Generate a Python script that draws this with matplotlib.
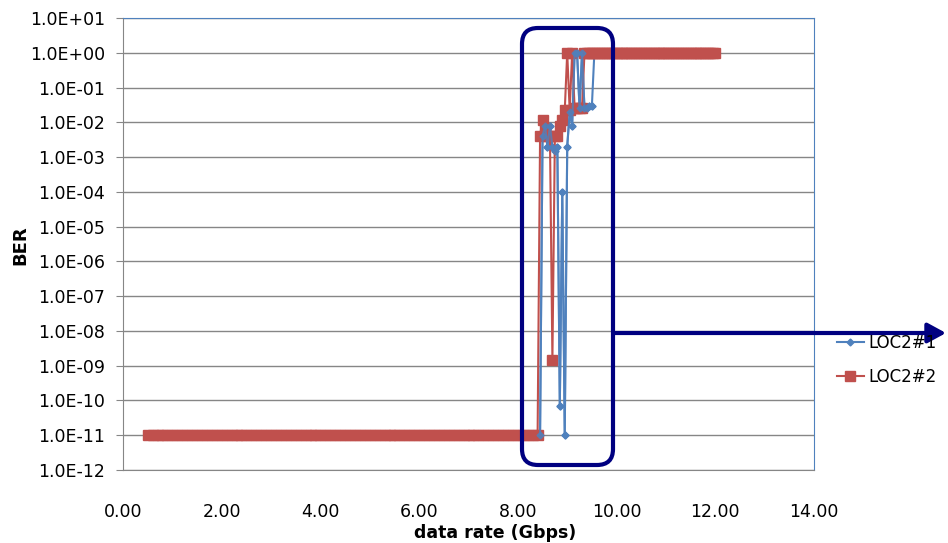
import numpy as np
import matplotlib
matplotlib.use('Agg')
import matplotlib.pyplot as plt
from matplotlib.patches import FancyBboxPatch, FancyArrowPatch
from matplotlib.transforms import IdentityTransform

plt.rcParams['font.family'] = 'DejaVu Sans'

rate_flat_low = np.round(np.arange(0.5, 8.45, 0.1), 2)
ber_flat_low = np.full(rate_flat_low.size, 1e-11)

loc1_rate = [8.45, 8.5, 8.55, 8.6, 8.65, 8.7, 8.75, 8.8, 8.85, 8.9, 8.95, 9.0,
             9.05, 9.1, 9.15, 9.2, 9.25, 9.3, 9.35, 9.4, 9.45, 9.5]
loc1_ber = [1e-11, 4e-3, 8e-3, 2e-3, 8e-3, 2e-3, 1.5e-3, 2e-3, 7e-11, 1e-4, 1e-11, 2e-3,
            2e-2, 8e-3, 1.0, 1.0, 2.5e-2, 1.0, 2.5e-2, 2.5e-2, 3e-2, 3e-2]

loc2_rate = [8.45, 8.5, 8.55, 8.6, 8.65, 8.7, 8.75, 8.8, 8.85, 8.9, 8.95, 9.0,
             9.05, 9.1, 9.15, 9.2, 9.25, 9.3]
loc2_ber = [4e-3, 1.2e-2, 7e-3, 4e-3, 4e-3, 1.5e-9, 4e-3, 4e-3, 8e-3, 1.2e-2, 2.2e-2, 1.0,
            2.2e-2, 1.0, 2.6e-2, 2.6e-2, 2.6e-2, 2.6e-2]

rate_flat_loc1_high = np.round(np.arange(9.55, 12.01, 0.05), 2)
rate_flat_loc2_high = np.round(np.arange(9.35, 12.01, 0.05), 2)

y_ticks = [1e-12, 1e-11, 1e-10, 1e-9, 1e-8, 1e-7, 1e-6, 1e-5, 1e-4, 1e-3, 1e-2, 1e-1, 1e0, 1e1]
y_labels = ['1.0E-12', '1.0E-11', '1.0E-10', '1.0E-09', '1.0E-08', '1.0E-07', '1.0E-06',
            '1.0E-05', '1.0E-04', '1.0E-03', '1.0E-02', '1.0E-01', '1.0E+00', '1.0E+01']
x_ticks = [0, 2, 4, 6, 8, 10, 12, 14]
x_labels = ['0.00', '2.00', '4.00', '6.00', '8.00', '10.00', '12.00', '14.00']

x1 = np.concatenate([rate_flat_low, loc1_rate, rate_flat_loc1_high])
y1 = np.concatenate([ber_flat_low, loc1_ber, np.ones(rate_flat_loc1_high.size)])
x2 = np.concatenate([rate_flat_low, loc2_rate, rate_flat_loc2_high])
y2 = np.concatenate([ber_flat_low, loc2_ber, np.ones(rate_flat_loc2_high.size)])

W, H = 948, 543
fig = plt.figure(figsize=(W / 100, H / 100), dpi=100)
ax = fig.add_axes([123 / W, 1 - 470 / H, (814 - 123) / W, (470 - 18) / H])

l1, = ax.plot(x1, y1, '-', color='#4F81BD', lw=1.5, marker='D', ms=3.5,
              mec='#4F81BD', label='LOC2#1')
l2, = ax.plot(x2, y2, '-', color='#C0504D', lw=1.5, marker='s', ms=6.5,
              mec='#C0504D', label='LOC2#2')
# blue drawn again on top in the transition zone
ax.plot(loc1_rate, loc1_ber, '-', color='#4F81BD', lw=1.5, marker='D', ms=3.5, alpha=0.8)

ax.set_yscale('log')
ax.set_ylim(1e-12, 1e1)
ax.set_xlim(0, 14)
ax.set_yticks(y_ticks)
ax.set_yticklabels(y_labels, fontsize=12.5)
ax.minorticks_off()
ax.set_xticks(x_ticks)
ax.set_xticklabels(x_labels, fontsize=12.5)
ax.tick_params(axis='x', length=0, pad=24)
ax.tick_params(axis='y', length=5, color='#868686', pad=8)
ax.grid(axis='y', color='#868686', lw=1)
ax.set_axisbelow(True)
for s in ['left', 'bottom']:
    ax.spines[s].set_color('#868686')
for s in ['top', 'right']:
    ax.spines[s].set_color('#4F81BD')

fig.text(495 / W, 1 / H, 'data rate (Gbps)', ha='center', va='bottom',
         fontsize=12.5, fontweight='bold')
fig.text(20 / W, 1 - 245 / H, 'BER', ha='center', va='center', rotation=90,
         fontsize=13, fontweight='bold')

fig.legend(handles=[l1, l2], loc='center left', bbox_to_anchor=(822 / W, 1 - 360 / H),
           frameon=False, fontsize=12, handlelength=1.6, handletextpad=0.3,
           labelspacing=1.0)

# highlight box and arrow (pixel coordinates, origin bottom-left)
box = FancyBboxPatch((522, H - 465), 613 - 522, 465 - 28,
                     boxstyle='round,pad=0,rounding_size=16',
                     fill=False, ec='#000080', lw=3, transform=IdentityTransform())
fig.add_artist(box)
arrow = FancyArrowPatch((613, H - 333), (946, H - 333),
                        arrowstyle='-|>,head_length=11,head_width=6',
                        color='#000080', lw=3, shrinkA=0, shrinkB=0,
                        transform=IdentityTransform())
fig.add_artist(arrow)

fig.savefig('out.png', dpi=100)
